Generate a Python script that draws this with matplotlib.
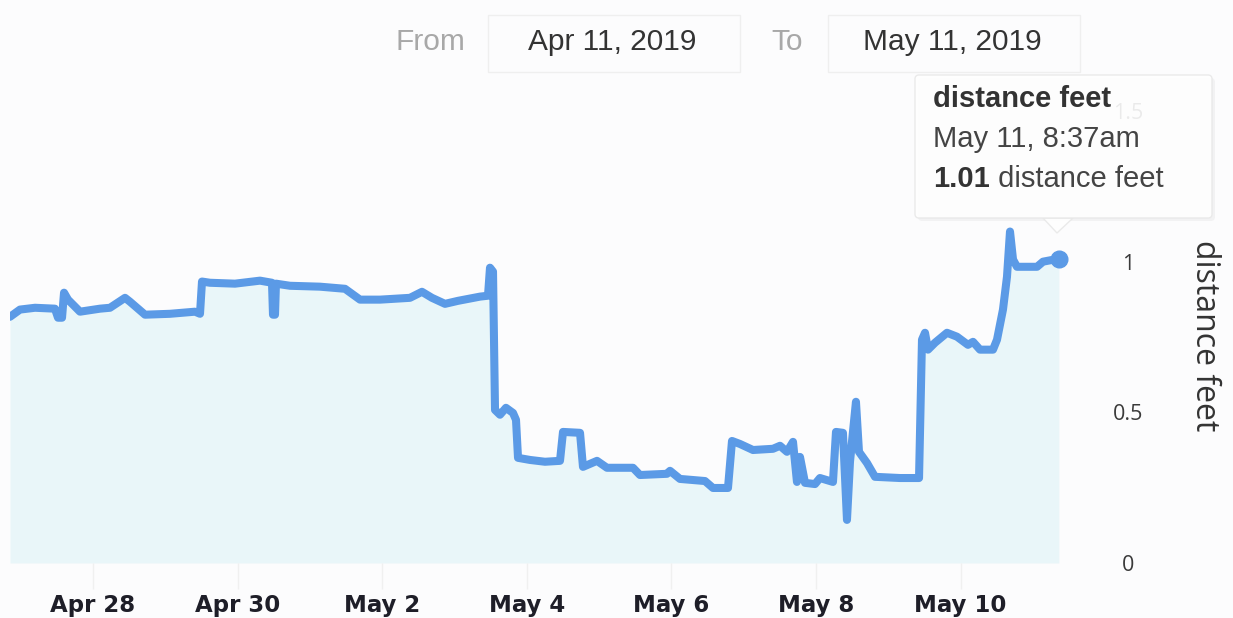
import matplotlib
matplotlib.use('Agg')
import matplotlib.pyplot as plt
import matplotlib.dates as mdates
from matplotlib.patches import FancyBboxPatch, Polygon, Rectangle
from matplotlib.transforms import IdentityTransform
from matplotlib.text import Annotation
import pandas as pd

#odczytane punkty przebiegu (czas, odleglosc w stopach)
czas = ["2019-04-26 20:27", "2019-04-26 23:46", "2019-04-27 04:45", "2019-04-27 11:22",
        "2019-04-27 12:23", "2019-04-27 13:43", "2019-04-27 14:23", "2019-04-27 15:42",
        "2019-04-27 19:41", "2019-04-28 02:19", "2019-04-28 05:38", "2019-04-28 10:38",
        "2019-04-28 12:17", "2019-04-28 17:16", "2019-04-29 01:34", "2019-04-29 09:52",
        "2019-04-29 11:31", "2019-04-29 12:11", "2019-04-29 14:50", "2019-04-29 23:08",
        "2019-04-30 07:26", "2019-04-30 11:25", "2019-04-30 11:45", "2019-04-30 12:25",
        "2019-04-30 12:44", "2019-04-30 17:24", "2019-05-01 03:21", "2019-05-01 11:39",
        "2019-05-01 16:38", "2019-05-01 23:17", "2019-05-02 09:13", "2019-05-02 13:12",
        "2019-05-02 16:31", "2019-05-02 20:51", "2019-05-03 01:09", "2019-05-03 08:28",
        "2019-05-03 11:07", "2019-05-03 11:47", "2019-05-03 12:47", "2019-05-03 13:27",
        "2019-05-03 15:06", "2019-05-03 17:05", "2019-05-03 19:25", "2019-05-03 20:25",
        "2019-05-03 21:05", "2019-05-04 01:03", "2019-05-04 06:02", "2019-05-04 11:01",
        "2019-05-04 12:01", "2019-05-04 17:40", "2019-05-04 18:39", "2019-05-04 23:18",
        "2019-05-05 02:37", "2019-05-05 11:15", "2019-05-05 13:34", "2019-05-05 22:32",
        "2019-05-05 23:32", "2019-05-06 02:51", "2019-05-06 11:09", "2019-05-06 13:48",
        "2019-05-06 18:47", "2019-05-06 20:07", "2019-05-06 22:46", "2019-05-07 03:05",
        "2019-05-07 09:43", "2019-05-07 12:03", "2019-05-07 14:22", "2019-05-07 16:22",
        "2019-05-07 17:41", "2019-05-07 18:41", "2019-05-07 20:21", "2019-05-07 23:40",
        "2019-05-08 01:19", "2019-05-08 05:38", "2019-05-08 06:38", "2019-05-08 08:57",
        "2019-05-08 10:17", "2019-05-08 11:17", "2019-05-08 13:16", "2019-05-08 14:16",
        "2019-05-08 16:55", "2019-05-08 19:35", "2019-05-09 03:53", "2019-05-09 10:12",
        "2019-05-09 11:11", "2019-05-09 12:11", "2019-05-09 13:11", "2019-05-09 15:30",
        "2019-05-09 19:29", "2019-05-09 22:48", "2019-05-10 02:27", "2019-05-10 04:07",
        "2019-05-10 06:26", "2019-05-10 10:45", "2019-05-10 12:05", "2019-05-10 14:04",
        "2019-05-10 15:24", "2019-05-10 16:24", "2019-05-10 17:24", "2019-05-10 18:43",
        "2019-05-11 01:22", "2019-05-11 03:22", "2019-05-11 08:37"]
dystans = [0.817, 0.841, 0.847, 0.844, 0.814, 0.814, 0.897, 0.874,
           0.834, 0.844, 0.847, 0.880, 0.867, 0.824, 0.827, 0.834,
           0.827, 0.934, 0.930, 0.927, 0.937, 0.930, 0.824, 0.824,
           0.927, 0.920, 0.917, 0.910, 0.874, 0.874, 0.880, 0.900,
           0.880, 0.860, 0.870, 0.884, 0.887, 0.980, 0.967, 0.508,
           0.492, 0.515, 0.498, 0.475, 0.349, 0.342, 0.336, 0.339,
           0.435, 0.432, 0.319, 0.339, 0.316, 0.316, 0.292, 0.296,
           0.306, 0.279, 0.272, 0.249, 0.249, 0.405, 0.395, 0.375,
           0.379, 0.389, 0.369, 0.402, 0.269, 0.352, 0.266, 0.262,
           0.282, 0.269, 0.435, 0.432, 0.143, 0.336, 0.535, 0.369,
           0.332, 0.286, 0.282, 0.282, 0.741, 0.764, 0.708, 0.731,
           0.764, 0.751, 0.724, 0.734, 0.708, 0.708, 0.741, 0.841,
           0.950, 1.100, 1.007, 0.983, 0.983, 1.000, 1.010]

#etykiety i teksty
ticki_x = ["2019-04-28", "2019-04-30", "2019-05-02", "2019-05-04",
           "2019-05-06", "2019-05-08", "2019-05-10"]
ticki_y = [0, 0.5, 1, 1.5]
etykiety_y = ["0", "0.5", "1", "1.5"]
od_daty = "Apr 11, 2019"
do_daty = "May 11, 2019"
tooltip_czas = "May 11, 8:37am"
tooltip_wartosc = "1.01"
nazwa = "distance feet"

W, H = 1233, 618
niebieski = '#5b9ae6'
wypelnienie = '#e9f6f9'
ident = IdentityTransform()

t = pd.to_datetime(czas)

fig = plt.figure(figsize=(W / 100, H / 100), dpi=100)
fig.patch.set_facecolor('#fcfcfd')

#obszar wykresu w pikselach: x 10..1095, y 111..563
ax = fig.add_axes([10 / W, (H - 563) / H, (1095 - 10) / W, (563 - 111) / H])
ax.set_facecolor('none')

ax.fill_between(t, dystans, 0, color=wypelnienie, linewidth=0, zorder=1)
ax.plot(t, dystans, color=niebieski, lw=5.8, solid_joinstyle='round',
        solid_capstyle='round', zorder=3)
ax.plot(t[-1:], dystans[-1:], 'o', color=niebieski, ms=12, zorder=4)

#skala osi x: 72.3 px na dzien, Apr 28 przy x=93
d0 = mdates.date2num(pd.Timestamp("2019-04-28"))
ax.set_xlim(d0 + (10 - 93) / 72.3, d0 + (1095 - 93) / 72.3)
ax.set_ylim(0, 1.5)

ax.set_xticks(pd.to_datetime(ticki_x))
ax.xaxis.set_major_formatter(mdates.DateFormatter('%b %-d'))
ax.tick_params(axis='x', length=19, width=1, color='#f0f0f0', pad=3,
               labelsize=16.5, labelcolor='#1e1e28')
for lab in ax.get_xticklabels():
    lab.set_fontweight('bold')
    lab.set_family('DejaVu Sans')

ax.yaxis.tick_right()
ax.set_yticks(ticki_y)
ax.set_yticklabels(etykiety_y)
ax.tick_params(axis='y', length=0, pad=24, labelsize=15.5, labelcolor='#3a3a3a')
for lab in ax.get_yticklabels():
    lab.set_ha('center')
    lab.set_family('Open Sans')

for s in ax.spines.values():
    s.set_visible(False)

#podpis osi po prawej
fig.text(1205, H - 336, nazwa, transform=ident, rotation=270,
         ha='center', va='center', fontsize=23, family='Open Sans', color='#333333')

#naglowek z zakresem dat
fig.text(430, H - 42, "From", transform=ident, ha='center', va='center',
         fontsize=21.5, family='Liberation Sans', color='#a8a8a8')
fig.text(787, H - 42, "To", transform=ident, ha='center', va='center',
         fontsize=21.5, family='Liberation Sans', color='#a8a8a8')
for x0, tekst in [(488, od_daty), (828, do_daty)]:
    fig.add_artist(Rectangle((x0, H - 72), 252, 57, transform=ident,
                             facecolor='none', edgecolor='#efefef', lw=1))
    fig.text(x0 + 124, H - 42, tekst, transform=ident, ha='center', va='center',
             fontsize=21.5, family='Liberation Sans', color='#333333')

#dymek z wartoscia
fig.add_artist(FancyBboxPatch((918, H - 221), 297, 143, transform=ident,
                              boxstyle='round,pad=0,rounding_size=4',
                              facecolor='#000000', alpha=0.04, lw=0, zorder=5))
fig.add_artist(Polygon([(1043, H - 218), (1057, H - 233), (1073, H - 218)],
                       closed=True, transform=ident, facecolor='white',
                       edgecolor='#e8e8e8', lw=1, alpha=0.9, zorder=6))
fig.add_artist(FancyBboxPatch((915, H - 218), 297, 143, transform=ident,
                              boxstyle='round,pad=0,rounding_size=4',
                              facecolor='white', edgecolor='#e8e8e8', lw=1,
                              alpha=0.9, zorder=6))
fig.text(933, H - 107, nazwa, transform=ident, ha='left', va='baseline',
         fontsize=21, fontweight='bold', family='Liberation Sans', color='#333333', zorder=7)
fig.text(933, H - 147, tooltip_czas, transform=ident, ha='left', va='baseline',
         fontsize=21, family='Liberation Sans', color='#444444', zorder=7)
t1 = fig.text(933, H - 187, tooltip_wartosc, transform=ident, ha='left', va='baseline',
              fontsize=21, fontweight='bold', family='Liberation Sans', color='#333333', zorder=7)
a1 = Annotation(" " + nazwa, xy=(1, 0), xycoords=t1, ha='left', va='bottom',
                fontsize=21, family='Liberation Sans', color='#444444',
                annotation_clip=False)
a1.set_zorder(7)
fig.add_artist(a1)

fig.savefig('out.png', dpi=100, facecolor=fig.get_facecolor())
